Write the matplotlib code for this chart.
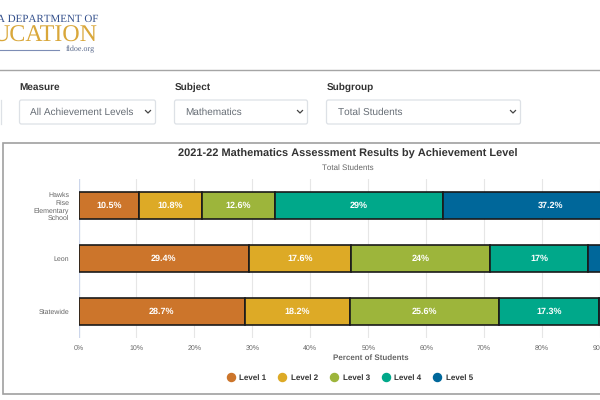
import matplotlib
matplotlib.use("Agg")
import matplotlib.pyplot as plt
from matplotlib.lines import Line2D
from matplotlib.patches import FancyBboxPatch, Rectangle

plt.rcParams['font.family'] = ['Liberation Sans', 'DejaVu Sans']
plt.rcParams['text.hinting'] = 'no_hinting'
plt.rcParams['text.hinting_factor'] = 1

schools = ['Hawks\nRise\nElementary\nSchool', 'Leon', 'Statewide']
levels = ['Level 1', 'Level 2', 'Level 3', 'Level 4', 'Level 5']
level_1 = [10.5, 29.4, 28.7]
level_2 = [10.8, 17.6, 18.2]
level_3 = [12.6, 24, 25.6]
level_4 = [29, 17, 17.3]
level_5 = [37.2, 12, 10.2]
colors = ['#CC752B', '#DDAA26', '#9DB53B', '#00A88A', '#00679A']
x_ticks = [0, 10, 20, 30, 40, 50, 60, 70, 80, 90]

W, H = 600, 400
fig = plt.figure(figsize=(W / 100, H / 100), dpi=100)

# page furniture in pixel coordinates
page = fig.add_axes([0, 0, 1, 1])
page.set_xlim(0, W)
page.set_ylim(H, 0)
page.axis('off')

# logo, cut off by the left edge
page.text(98, 19.5, 'A DEPARTMENT OF', family='Liberation Serif', fontsize=7.9,
          color='#34508C', ha='right', va='center')
page.text(97, 36, 'UCATION', family='Liberation Serif', fontsize=17.5,
          color='#D9A73A', ha='right', va='center')
page.plot([0, 59], [49.5, 49.5], color='#7D8DB5', lw=0.8)
page.text(95, 49.5, 'fldoe.org', family='Liberation Serif', fontsize=5.8,
          color='#5A6A8C', ha='right', va='center')

page.plot([0, W], [70, 70], color='#A5A5A5', lw=1)


def dropdown(label, text, x0, x1):
    page.text(x0, 87.5, label, fontsize=7.3, fontweight='bold', color='#333333',
              va='center')
    page.add_patch(FancyBboxPatch((x0, 100), x1 - x0, 24,
                                  boxstyle='round,pad=0,rounding_size=2',
                                  fc='white', ec='#DDE1E6', lw=0.9))
    page.text(x0 + 11, 112, text, fontsize=7.3, color='#666D75', va='center')
    page.plot([x1 - 10, x1 - 7.5, x1 - 5], [110.5, 113, 110.5],
              color='#444444', lw=0.9)


dropdown('Measure', 'All Achievement Levels', 19.5, 155.5)
dropdown('Subject', 'Mathematics', 174.5, 307.5)
dropdown('Subgroup', 'Total Students', 326.5, 520.5)
page.plot([0.5, 0.5], [100, 124], color='#DDE1E6', lw=0.9)

# chart frame runs off the right edge
page.add_patch(Rectangle((3, 143), W, 251, fc='white', ec='#A0A0A0', lw=1.2))

page.text(348, 154, '2021-22 Mathematics Assessment Results by Achievement Level',
          fontsize=8.25, fontweight='bold', color='#333333', ha='center', va='center')
page.text(348, 168, 'Total Students', fontsize=5.5, color='#666666',
          ha='center', va='center')
page.text(370.5, 358, 'Percent of Students', fontsize=5.6, fontweight='bold',
          color='#666666', ha='center', va='center')

# chart itself, the x axis runs past the right edge of the picture
left, right, top, bottom = 78.5, 600, 179, 338
ax = fig.add_axes([left / W, 1 - bottom / H, (right - left) / W, (bottom - top) / H])
ax.patch.set_alpha(0)
x_max = (right - left) / 5.825
ax.set_xlim(0, x_max)
ax.set_ylim(2.5, -0.5)
for s in ax.spines.values():
    s.set_visible(False)

ax.set_axisbelow(True)
ax.grid(axis='x', color='#E6E6E6', lw=0.8)
ax.axvline(0, color='#CCD6EB', lw=0.9, zorder=1)

series = [level_1, level_2, level_3, level_4, level_5]
starts = [0, 0, 0]
for vals, color in zip(series, colors):
    ax.barh(range(len(schools)), vals, left=starts, height=27 / 53, color=color,
            edgecolor='#1A1A1A', linewidth=1.2, zorder=3)
    for i, v in enumerate(vals):
        # labels of segments that run out of the picture are not visible
        if starts[i] + v / 2 < x_max:
            ax.text(starts[i] + v / 2, i, f'{v:g}%', color='white', fontsize=6.7,
                    fontweight='bold', ha='center', va='center', zorder=4)
    starts = [a + b for a, b in zip(starts, vals)]

ax.set_yticks(range(len(schools)), schools, fontsize=5.4, color='#666666', linespacing=1.25)
ax.set_xticks(x_ticks, [f'{t}%' for t in x_ticks], fontsize=5.4, color='#666666')
ax.tick_params(axis='both', length=0)
ax.tick_params(axis='y', pad=6.8)
ax.tick_params(axis='x', pad=5)

handles = [Line2D([], [], ls='', marker='o', ms=5.8, color=c, label=l)
           for c, l in zip(colors, levels)]
fig.legend(handles=handles, ncol=5, loc='center', bbox_to_anchor=(348 / W, 1 - 378 / H),
           frameon=False, prop={'size': 5.6, 'weight': 'bold'}, labelcolor='#333333',
           handletextpad=0.1, columnspacing=1.06)

fig.savefig('out.png', dpi=100)
